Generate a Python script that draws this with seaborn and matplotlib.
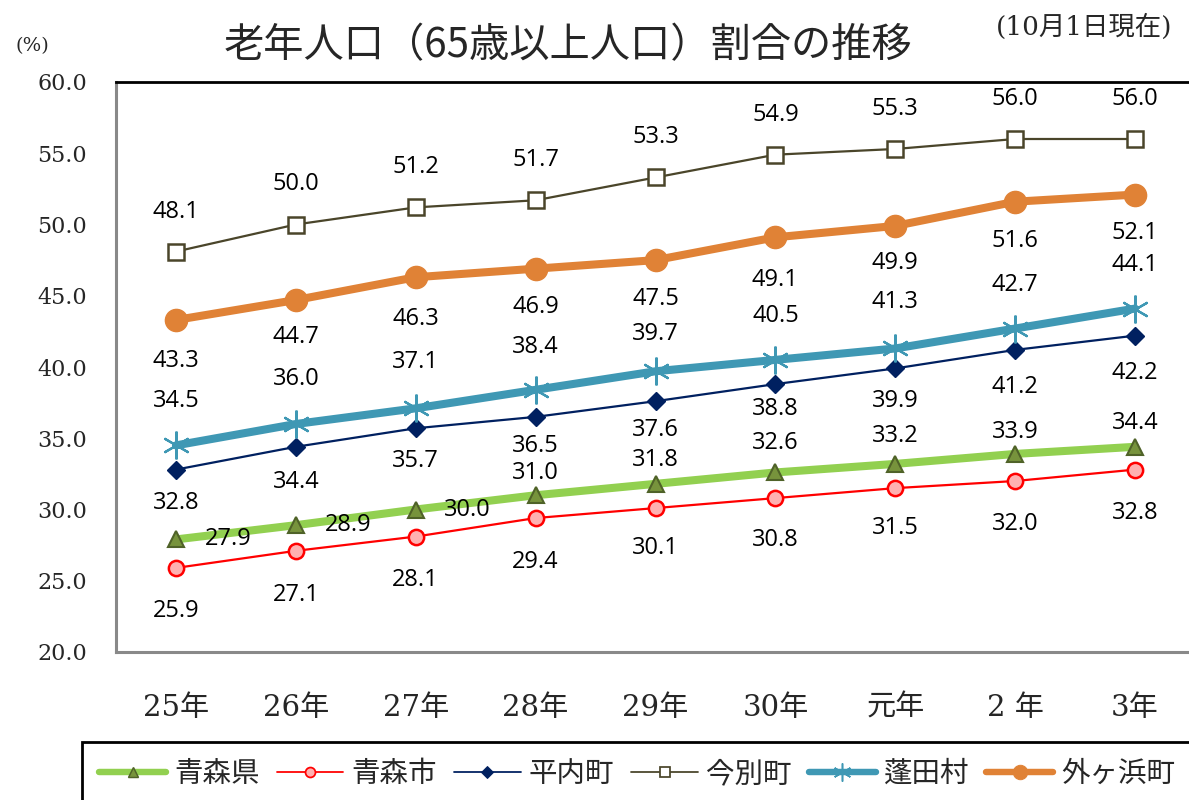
import numpy as np
import seaborn as sns
import matplotlib
matplotlib.use("Agg")
import matplotlib.pyplot as plt
from matplotlib.lines import Line2D

# data (percent of population aged 65+)
years = ["25年", "26年", "27年", "28年", "29年", "30年", "元年", "2 年", "3年"]
aomori_pref = [27.9, 28.9, 30.0, 31.0, 31.8, 32.6, 33.2, 33.9, 34.4]
aomori_city = [25.9, 27.1, 28.1, 29.4, 30.1, 30.8, 31.5, 32.0, 32.8]
hiranai = [32.8, 34.4, 35.7, 36.5, 37.6, 38.8, 39.9, 41.2, 42.2]
imabetsu = [48.1, 50.0, 51.2, 51.7, 53.3, 54.9, 55.3, 56.0, 56.0]
yomogita = [34.5, 36.0, 37.1, 38.4, 39.7, 40.5, 41.3, 42.7, 44.1]
sotogahama = [43.3, 44.7, 46.3, 46.9, 47.5, 49.1, 49.9, 51.6, 52.1]

names = ["青森県", "青森市", "平内町", "今別町", "蓬田村", "外ヶ浜町"]

sns.set_style("white")
plt.rcParams["font.family"] = ["Noto Sans CJK JP", "DejaVu Sans"]

SERIF = ["DejaVu Serif", "Noto Sans CJK JP"]

# line styles per series
styles = {
    "青森県": dict(color="#92d050", lw=5.8, marker="^", ms=12, mfc="#77933c", mec="#4f6228", mew=1.5),
    "青森市": dict(color="#ff0000", lw=1.6, marker="o", ms=11, mfc="#ffb0b0", mec="#ff0000", mew=1.8),
    "平内町": dict(color="#002060", lw=1.6, marker="D", ms=9, mfc="#002060", mec="#002060", mew=1),
    "今別町": dict(color="#4a452a", lw=1.6, marker="s", ms=11, mfc="white", mec="#4a452a", mew=1.8),
    "蓬田村": dict(color="#3f98b4", lw=5.8, marker=(6, 2, 0), ms=20, mfc="#3f98b4", mec="#3f98b4", mew=1.6),
    "外ヶ浜町": dict(color="#e08236", lw=5.8, marker="o", ms=16, mfc="#e08236", mec="#e08236", mew=1),
}

# label offsets in pixels (dx, dy with y pointing down)
label_off = {
    "青森県": [(52, 0), (52, 0), (52, 0), (0, -22), (0, -24), (0, -29), (0, -28), (0, -22), (0, -24)],
    "青森市": [(0, d) for d in [43, 44, 43, 44, 40, 42, 40, 43, 43]],
    "平内町": [(0, d) for d in [33, 35, 33, 29, 29, 25, 33, 37, 37]],
    "今別町": [(0, -40)] * 9,
    "蓬田村": [(0, d) for d in [-44, -45, -46, -43, -37, -44, -46, -44, -44]],
    "外ヶ浜町": [(0, d) for d in [41, 37, 42, 38, 39, 43, 37, 39, 38]],
}

series = [aomori_pref, aomori_city, hiranai, imabetsu, yomogita, sotogahama]
x = np.arange(len(years))

fig = plt.figure(figsize=(11.89, 8), dpi=100)
ax = fig.add_axes([116 / 1189, 148 / 800, 1079 / 1189, 570 / 800])

handles = []
for name, vals in zip(names, series):
    st = styles[name]
    sns.lineplot(x=x, y=vals, ax=ax, color=st["color"], linewidth=st["lw"],
                 marker=st["marker"], markersize=st["ms"], markerfacecolor=st["mfc"],
                 markeredgecolor=st["mec"], markeredgewidth=st["mew"], legend=False)
    handles.append(Line2D([], [], color=st["color"], linewidth=st["lw"] * 0.8,
                          marker=st["marker"], markersize=st["ms"] * 0.65,
                          markerfacecolor=st["mfc"], markeredgecolor=st["mec"],
                          markeredgewidth=st["mew"] * 0.7, label=name))
    for i, v in enumerate(vals):
        dx, dy = label_off[name][i]
        ax.annotate(f"{v:.1f}", (x[i], v), xytext=(dx * 0.72, -dy * 0.72),
                    textcoords="offset points", ha="center", va="center",
                    fontsize=17, fontfamily="Open Sans", color="black")

ax.set_xlim(-0.5, len(years) - 0.5)
ax.set_ylim(20, 60)
yt = np.arange(20, 60.1, 5)
ax.set_yticks(yt)
ax.set_yticklabels([f"{t:.1f}" for t in yt], fontfamily=SERIF, fontsize=16)
ax.set_xticks(x)
ax.set_xticklabels(years, fontfamily=SERIF, fontsize=21)
ax.set_xticks(np.arange(0.5, len(years) - 0.5), minor=True)
ax.tick_params(axis="x", which="major", length=0, pad=30)
ax.tick_params(axis="x", which="minor", direction="in", length=8, width=2, color="#898989")
ax.tick_params(axis="y", direction="out", length=5, width=1.5, color="#898989", pad=16)
ax.set_xlabel("")
ax.set_ylabel("")

for side in ["left", "bottom"]:
    ax.spines[side].set_color("#898989")
    ax.spines[side].set_linewidth(2.2)
ax.spines["top"].set_color("black")
ax.spines["top"].set_linewidth(2)
ax.spines["right"].set_visible(False)

fig.text(568 / 1189, 1 - 46 / 800, "老年人口（65歳以上人口）割合の推移", ha="center", va="center",
         fontsize=29)
fig.text(32 / 1189, 1 - 46 / 800, "(%)", ha="center", va="center", fontsize=14, fontfamily=SERIF)
fig.text(1084 / 1189, 1 - 27 / 800, "(10月1日現在)", ha="center", va="center", fontsize=19,
         fontfamily=SERIF)

leg = fig.legend(handles=handles, loc="upper left", bbox_to_anchor=(82 / 1189, 1 - 742 / 800),
                 ncol=6, fontsize=20.5, frameon=True, fancybox=False, framealpha=1,
                 handlelength=2.35, handletextpad=0.28, columnspacing=0.6, borderpad=0.6,
                 borderaxespad=0)
leg.get_frame().set_edgecolor("black")
leg.get_frame().set_linewidth(2)

fig.savefig("out.png", dpi=100)
